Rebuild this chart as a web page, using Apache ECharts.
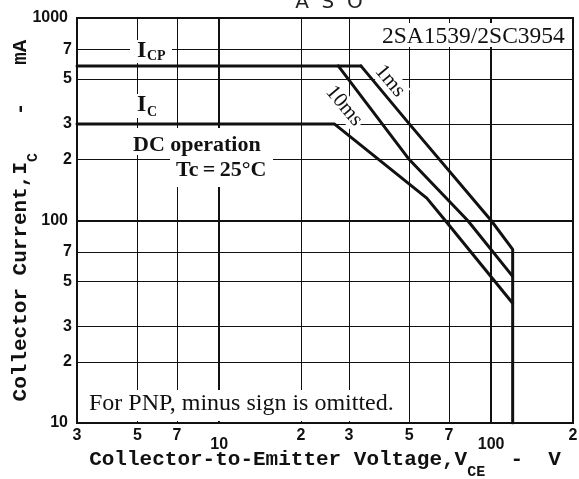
<!DOCTYPE html>
<html><head><meta charset="utf-8">
<script src="https://cdn.jsdelivr.net/npm/echarts@6/dist/echarts.min.js"></script>
<style>html,body{margin:0;padding:0;background:#fff}#c{width:579px;height:479px}</style>
</head><body><div id="c"></div>
<script>
// ---- data ----
const xTicks = [3, 5, 7, 10, 20, 30, 50, 70, 100, 200];
const xTickLabels = ['3', '5', '7', '10', '2', '3', '5', '7', '100', '2'];
const yTicks = [10, 20, 30, 50, 70, 100, 200, 300, 500, 700, 1000];
const yTickLabels = ['10', '2', '3', '5', '7', '100', '2', '3', '5', '7', '1000'];
const icpLine = [[3, 580], [33.2, 580]];
const pulse1ms = [[33.2, 580], [50, 300], [100, 100], [120, 72], [120, 10]];
const pulse10ms = [[27.4, 580], [50, 200], [82, 100], [120, 53]];
const dcLine = [[3, 300], [26.5, 300], [58, 129], [67.8, 100], [120, 39]];

// ---- styling ----
const INK = '#111';
const SANS = '"Liberation Sans", Arial, sans-serif';
const SERIF = '"Liberation Serif", "Times New Roman", serif';
const MONO = '"Liberation Mono", "Courier New", monospace';
const major = v => v === 10 || v === 100;

const xGrid = xTicks.map((v, i) => ({
  xAxis: v, name: xTickLabels[i],
  lineStyle: { width: major(v) || v === 3 || v === 200 ? 2 : 1 },
  label: { distance: major(v) ? 14 : 5 }
}));
const yGrid = yTicks.map((v, i) => ({
  yAxis: v, name: yTickLabels[i],
  lineStyle: { width: major(v) || v === 10 || v === 1000 ? 2 : 1 },
  label: { distance: yTickLabels[i].length > 1 ? 9 : 5, padding: v === 10 ? [0, 0, 10, 0] : 0 }
}));

const curve = (d, w) => ({
  type: 'line', data: d, showSymbol: false, symbol: 'none', z: 10, silent: true,
  animation: false, lineStyle: { color: INK, width: w || 3, join: 'round', cap: 'round' },
  emphasis: { disabled: true }
});

const titleRich = {
  m: { fontFamily: MONO, fontWeight: 'bold', fontSize: 21, color: INK, lineHeight: 24, verticalAlign: 'top' },
  s: { fontFamily: MONO, fontWeight: 'bold', fontSize: 15, color: INK, lineHeight: 15, verticalAlign: 'top', padding: [16, 0, 0, 0] }
};

const rect = (x, y, w, h) => ({ type: 'rect', z: 3, silent: true, shape: { x, y, width: w, height: h }, style: { fill: '#fff' } });
const txt = (x, y, text, font, extra) => Object.assign({
  type: 'text', z: 4, silent: true, x, y,
  style: { text, font, fill: INK, align: 'left', verticalAlign: 'middle' }
}, extra || {});

const chart = echarts.init(document.getElementById('c'), null, { renderer: 'canvas' });
chart.setOption({
  animation: false,
  backgroundColor: '#fff',
  grid: { left: 77, right: 6, top: 18, bottom: 56, show: true, borderColor: INK, borderWidth: 2, containLabel: false, outerBoundsMode: 'none' },
  xAxis: {
    type: 'log', logBase: 10, min: 3, max: 200,
    axisLine: { show: false }, axisTick: { show: false }, axisLabel: { show: false }, splitLine: { show: false },
    name: '{m|Collector-to-Emitter Voltage,V}{s|CE}{m|  -  V}',
    nameLocation: 'middle', nameGap: 26,
    nameTextStyle: { rich: titleRich, fontFamily: MONO, fontWeight: 'bold', fontSize: 21, color: INK }
  },
  yAxis: {
    type: 'log', logBase: 10, min: 10, max: 1000,
    axisLine: { show: false }, axisTick: { show: false }, axisLabel: { show: false }, splitLine: { show: false },
    name: '{m|Collector Current,I}{s|C}{m|   -   mA}',
    nameLocation: 'middle', nameGap: 43,
    nameTextStyle: { rich: titleRich, fontFamily: MONO, fontWeight: 'bold', fontSize: 21, color: INK }
  },
  series: [
    {
      type: 'line', data: [], silent: true, z: 1,
      markLine: {
        z: 1, silent: true, symbol: 'none', animation: false, precision: 4,
        lineStyle: { color: INK, type: 'solid', width: 1 },
        label: { show: true, position: 'start', formatter: '{b}', fontFamily: SANS, fontWeight: 'bold', fontSize: 16, color: INK },
        emphasis: { disabled: true },
        data: [...xGrid, ...yGrid]
      }
    },
    curve(icpLine),
    curve(pulse1ms),
    curve(pulse10ms),
    curve(dcLine)
  ],
  graphic: {
    elements: [
      rect(130, 40, 42, 23),
      rect(132, 94, 28, 24),
      rect(128, 128, 138, 27),
      rect(170, 155, 103, 32),
      rect(378, 23, 192, 24),
      rect(84, 390, 321, 31),
      txt(329, 3, 'A  S  O', '', { style: { text: 'A  S  O', font: '20px "DejaVu Sans", sans-serif', fill: '#222', align: 'center', verticalAlign: 'middle' } }),
      txt(137, 51, 'I', 'bold 24px ' + SERIF),
      txt(147, 56, 'CP', 'bold 14px ' + SERIF),
      txt(137, 105, 'I', 'bold 24px ' + SERIF),
      txt(147, 112, 'C', 'bold 14px ' + SERIF),
      txt(133, 145, 'DC operation', 'bold 22px ' + SERIF),
      txt(176, 170, 'Tc\u2009=\u200925°C', 'bold 22px ' + SERIF),
      txt(382, 37, '2SA1539/2SC3954', '23.5px ' + SERIF),
      txt(89, 404, 'For PNP, minus sign is omitted.', '24px ' + SERIF),
      {
        type: 'text', z: 4, silent: true, x: 390, y: 81, rotation: -50 * Math.PI / 180,
        style: { text: '1ms', font: '21px ' + SERIF, fill: INK, align: 'center', verticalAlign: 'middle', backgroundColor: '#fff', padding: [0, 2] }
      },
      {
        type: 'text', z: 4, silent: true, x: 344, y: 106, rotation: -50 * Math.PI / 180,
        style: { text: '10ms', font: '21px ' + SERIF, fill: INK, align: 'center', verticalAlign: 'middle', backgroundColor: '#fff', padding: [0, 2] }
      }
    ]
  }
});
</script></body></html>
